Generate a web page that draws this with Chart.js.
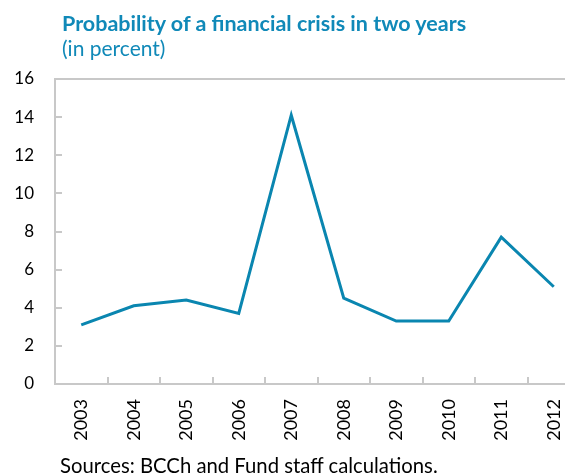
<!DOCTYPE html>
<html>
<head>
<meta charset="utf-8">
<script src="https://cdn.jsdelivr.net/npm/chart.js@4.4.0/dist/chart.umd.min.js"></script>
<style>
  body { margin: 0; width: 565px; height: 473px; overflow: hidden; background: #fff; position: relative; font-family: Lato, sans-serif; }
  #title, #subtitle, #source { position: absolute; white-space: nowrap; line-height: 1; }
  #title { left: 62px; top: 13px; font-size: 21.5px; font-weight: bold; color: #1089b8; }
  #subtitle { left: 62px; top: 37px; font-size: 21px; color: #1089b8; }
  #source { left: 60px; top: 455px; font-size: 20.3px; color: #000; }
  #wrap { position: absolute; left: 0; top: 0; width: 600px; height: 473px; }
</style>
</head>
<body>
<div id="wrap"><canvas id="chart" width="600" height="473"></canvas></div>
<div id="title">Probability of a financial crisis in two years</div>
<div id="subtitle">(in percent)</div>
<div id="source">Sources: BCCh and Fund staff calculations.</div>
<script>
const years = ["2003", "2004", "2005", "2006", "2007", "2008", "2009", "2010", "2011", "2012"];
const crisisProb = [3.1, 4.1, 4.4, 3.7, 14.1, 4.5, 3.3, 3.3, 7.7, 5.1];
const yTicks = [0, 2, 4, 6, 8, 10, 12, 14, 16];

const axisGray = "#c8c8c8";
const lineBlue = "#0a86b0";

// top edge of the frame (Chart.js only gives us the axis borders)
const topBorder = {
  id: "topBorder",
  afterDraw(chart) {
    const { ctx, chartArea } = chart;
    ctx.save();
    ctx.strokeStyle = axisGray;
    ctx.lineWidth = 2;
    ctx.beginPath();
    ctx.moveTo(chartArea.left, chartArea.top);
    ctx.lineTo(chartArea.right, chartArea.top);
    ctx.stroke();
    ctx.restore();
  },
};

const ctx = document.getElementById("chart").getContext("2d");

new Chart(ctx, {
  type: "line",
  data: {
    labels: years,
    datasets: [
      {
        label: "Probability",
        data: crisisProb,
        borderColor: lineBlue,
        backgroundColor: lineBlue,
        borderWidth: 3,
        pointRadius: 0,
        tension: 0,
      },
    ],
  },
  options: {
    responsive: false,
    animation: false,
    devicePixelRatio: 1,
    layout: { padding: { top: 79, right: 20, left: 0, bottom: 0 } },
    plugins: {
      legend: { display: false },
      tooltip: { enabled: false },
    },
    scales: {
      x: {
        offset: true,
        grid: {
          offset: true,
          drawOnChartArea: false,
          color: axisGray,
          lineWidth: 2,
          tickLength: -7,
        },
        border: { color: axisGray, width: 2 },
        ticks: {
          color: "#000",
          font: { family: "Lato", size: 18 },
          minRotation: 90,
          maxRotation: 90,
          padding: 22,
        },
        afterFit: (s) => { s.height = 89; },
      },
      y: {
        min: 0,
        max: 16,
        afterBuildTicks: (s) => { s.ticks = yTicks.map((v) => ({ value: v })); },
        grid: {
          drawOnChartArea: false,
          color: axisGray,
          lineWidth: 2,
          tickLength: -7,
        },
        border: { color: axisGray, width: 2 },
        ticks: {
          color: "#000",
          font: { family: "Lato", size: 17 },
          padding: 28,
        },
        afterFit: (s) => { s.width = 55; },
      },
    },
  },
  plugins: [topBorder],
});
</script>
</body>
</html>
